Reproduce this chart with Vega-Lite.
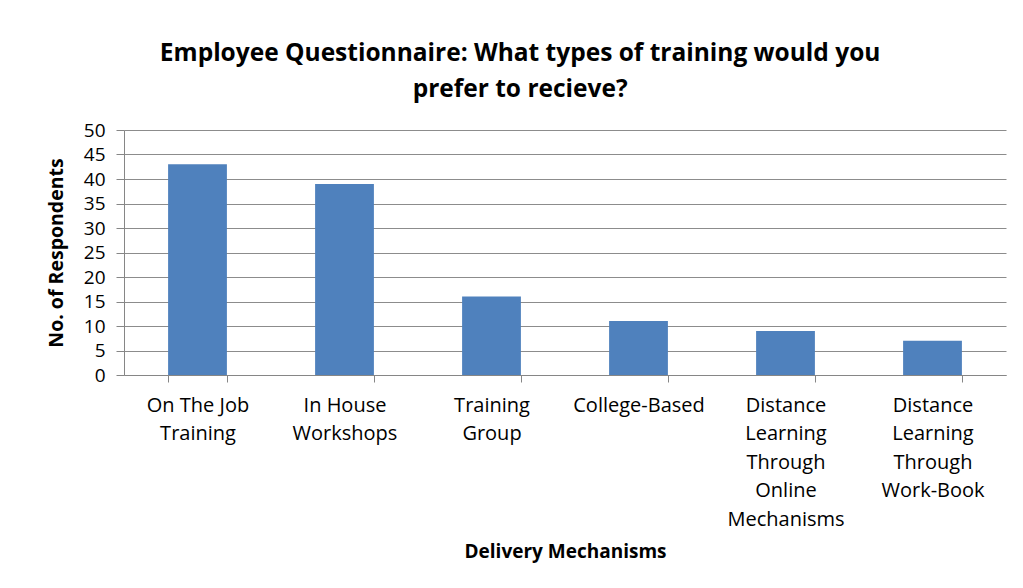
{
  "$schema": "https://vega.github.io/schema/vega-lite/v6.json",
  "width": 882,
  "height": 245,
  "padding": {"left": 46, "top": 40, "right": 13, "bottom": 10},
  "background": "white",
  "title": {
    "text": ["Employee Questionnaire: What types of training would you", "prefer to recieve?"],
    "font": "Open Sans",
    "fontSize": 24.5,
    "fontWeight": "bold",
    "color": "#000000",
    "lineHeight": 36,
    "anchor": "middle",
    "frame": "bounds",
    "offset": 19,
    "dx": -6
  },
  "data": {
    "values": [
      {"mechanism": "On The Job Training", "respondents": 43},
      {"mechanism": "In House Workshops", "respondents": 39},
      {"mechanism": "Training Group", "respondents": 16},
      {"mechanism": "College-Based", "respondents": 11},
      {"mechanism": "Distance Learning Through Online Mechanisms", "respondents": 9},
      {"mechanism": "Distance Learning Through Work-Book", "respondents": 7}
    ]
  },
  "mark": {"type": "bar", "color": "#4F81BD"},
  "encoding": {
    "x": {
      "field": "mechanism",
      "type": "nominal",
      "sort": null,
      "scale": {"paddingInner": 0.6, "paddingOuter": 0.3},
      "axis": {
        "title": "Delivery Mechanisms",
        "titleFont": "Open Sans",
        "titleFontSize": 19,
        "titleFontWeight": "bold",
        "titleColor": "#000000",
        "titlePadding": 13,
        "labelFont": "Open Sans",
        "labelFontSize": 20,
        "labelColor": "#000000",
        "labelAngle": 0,
        "labelLineHeight": 28.5,
        "labelPadding": 13,
        "labelLimit": 0,
        "labelExpr": "datum.value == 'On The Job Training' ? ['On The Job', 'Training'] : datum.value == 'In House Workshops' ? ['In House', 'Workshops'] : datum.value == 'Training Group' ? ['Training', 'Group'] : datum.value == 'Distance Learning Through Online Mechanisms' ? ['Distance', 'Learning', 'Through', 'Online', 'Mechanisms'] : datum.value == 'Distance Learning Through Work-Book' ? ['Distance', 'Learning', 'Through', 'Work-Book'] : datum.value",
        "tickBand": "extent",
        "tickSize": 7,
        "tickColor": "#868686",
        "domainColor": "#868686",
        "grid": false
      }
    },
    "y": {
      "field": "respondents",
      "type": "quantitative",
      "scale": {"domain": [0, 50], "nice": false},
      "axis": {
        "title": "No. of Respondents",
        "titleFont": "Open Sans",
        "titleFontSize": 19.5,
        "titleFontWeight": "bold",
        "titleColor": "#000000",
        "titlePadding": 17,
        "values": [0, 5, 10, 15, 20, 25, 30, 35, 40, 45, 50],
        "labelFont": "Open Sans",
        "labelFontSize": 19,
        "labelColor": "#000000",
        "labelPadding": 11,
        "tickSize": 8,
        "tickColor": "#868686",
        "domainColor": "#868686",
        "gridColor": "#8c8c8c",
        "gridWidth": 1
      }
    }
  },
  "config": {
    "view": {"stroke": null}
  }
}
